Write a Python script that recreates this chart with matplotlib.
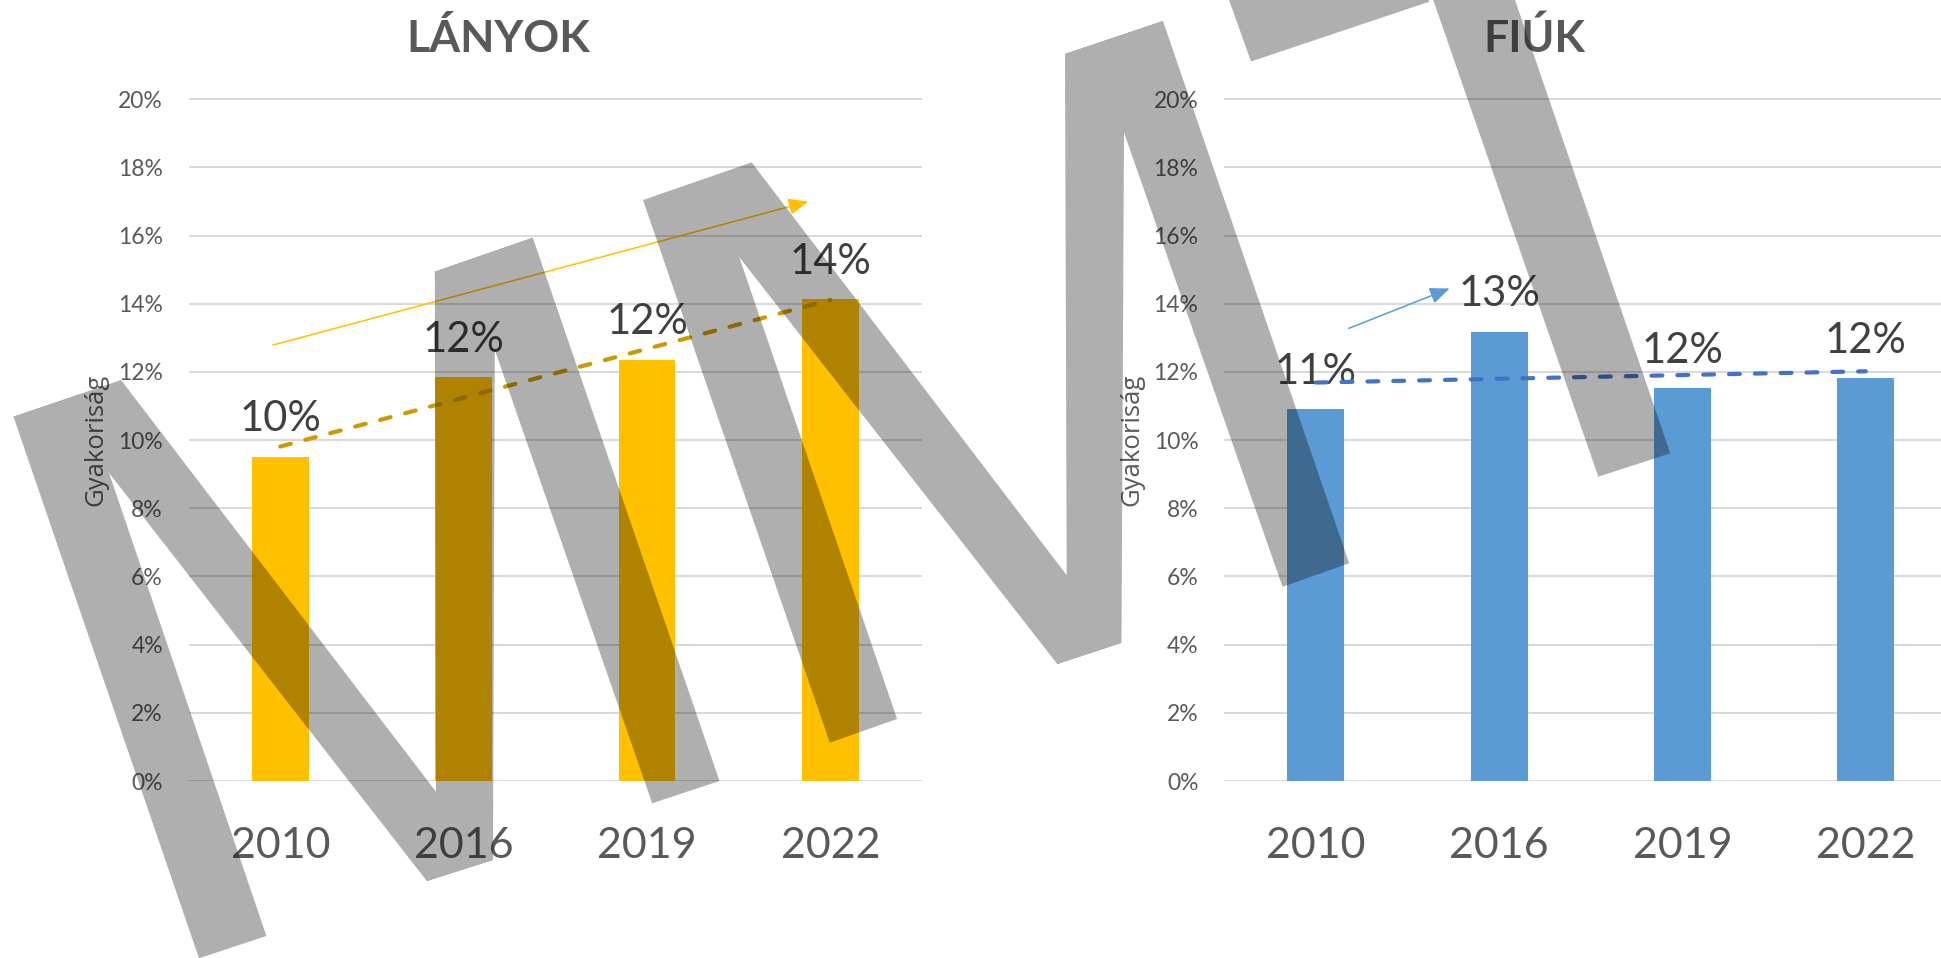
import numpy as np
import matplotlib.pyplot as plt
from matplotlib.path import Path
from matplotlib.patches import PathPatch
from matplotlib.transforms import Affine2D

# Data
years = ["2010", "2016", "2019", "2022"]
girls = [9.52, 11.85, 12.35, 14.13]
boys = [10.9, 13.18, 11.52, 11.82]
yticks = [0, 2, 4, 6, 8, 10, 12, 14, 16, 18, 20]

# hand drawn arrows on the slide (data coords: category index, percent)
girls_arrow = [(-0.04, 12.79), (2.88, 17.0)]
boys_arrow = [(0.18, 13.28), (0.73, 14.45)]

W, H = 1941, 958
GRAY = "#595959"
NUM_FONT = ["Lato", "DejaVu Sans"]

fig = plt.figure(figsize=(W / 100, H / 100), dpi=100)
fig.patch.set_facecolor("white")

ytop = 20.3
ax_h = 681.7 * ytop / 20


def draw_panel(left_px, values, color, trend_color, arrow, title, title_x):
    ax = fig.add_axes([left_px / W, 1 - 781 / H, 733.4 / W, ax_h / H])
    x = np.arange(len(years))
    ax.bar(x, values, width=0.31, color=color, zorder=2)
    ax.set_xlim(-0.5, 3.5)
    ax.set_ylim(0, ytop)

    ax.set_yticks(yticks)
    ax.set_yticklabels([f"{t}%" for t in yticks], family=NUM_FONT,
                       fontsize=16.5, color=GRAY)
    ax.set_xticks(x)
    ax.set_xticklabels(years, family=NUM_FONT, fontsize=31, color=GRAY)
    for t in ax.get_xticklabels():
        t.set_va("baseline")
    ax.tick_params(axis="y", length=0, pad=18.5)
    ax.tick_params(axis="x", length=0, pad=55.5)
    for s in ax.spines.values():
        s.set_visible(False)
    ax.yaxis.grid(True, color="#D9D9D9", lw=1.4)
    ax.set_axisbelow(True)
    ax.patch.set_alpha(0)

    # linear trendline
    k, b = np.polyfit(x, values, 1)
    ax.plot(x[[0, -1]], k * x[[0, -1]] + b, color=trend_color, lw=3.0,
            dashes=(2.6, 3.6), dash_capstyle="round", zorder=4)

    for i, v in enumerate(values):
        ax.annotate(f"{v:.0f}%", (i, v), xytext=(0, 18.4),
                    textcoords="offset points", ha="center", va="baseline",
                    fontsize=30, family=NUM_FONT, color="#404040", zorder=3)

    ax.annotate("", xy=arrow[1], xytext=arrow[0],
                arrowprops=dict(arrowstyle="-|>,head_length=0.6,head_width=0.25",
                                color=color, lw=1.1, mutation_scale=20,
                                shrinkA=0, shrinkB=0))

    ax.set_ylabel("Gyakoriság", family=["Open Sans", "DejaVu Sans"],
                  fontsize=18.5, color=GRAY)
    ax.yaxis.label.set_va("center")
    ax.yaxis.set_label_coords(-92.5 / 733.4, (781 - 440) / ax_h)

    fig.text(title_x / W, 1 - 51.7 / H, title, ha="center", va="baseline",
             fontsize=32, weight="bold", family=NUM_FONT, color=GRAY)
    return ax


draw_panel(188.6, girls, "#FFC000", "#CC9A00", girls_arrow, "LÁNYOK", 498)
draw_panel(1224.1, boys, "#5B9BD5", "#4472C4", boys_arrow, "FIÚK", 1534)

# grey watermark ribbon laid over the slide (pixel coords of the picture)
strokes = [
    [(13.5, 416.7), (82.1, 393.6), (266.4, 936), (199, 958.3)],
    [(13.5, 416.7), (121, 380), (436, 791.7), (493, 860), (426.8, 881), (109.3, 473.3)],
    [(434.8, 271.7), (532.8, 237.7), (494.8, 350), (493, 860), (426.8, 881), (436, 791.7)],
    [(434.8, 271.7), (532.8, 237.7), (719.5, 781), (652.2, 803.3), (494.8, 350)],
    [(643, 200), (751.7, 162.4), (739.3, 257.2), (897.1, 719), (829.8, 742.7)],
    [(739.3, 257.2), (751.7, 162.4), (1066.7, 575.2), (1121.5, 642.8), (1057.3, 664)],
    [(1065, 54), (1163, 21), (1124, 132.4), (1121.5, 642.8), (1057.3, 664), (1066.7, 575.2)],
    [(1065, 54), (1163, 21), (1349.2, 563.3), (1282.5, 586.8), (1124, 132.4)],
    [(1225.5, -10), (1251, 61.5), (1429.3, 1.7), (1425.2, -10)],
    [(1429.8, -10), (1511.6, -10), (1670.3, 453.3), (1598.3, 476.7)],
]
verts, codes = [], []
for poly in strokes:
    p = np.array(poly, dtype=float)
    area = np.sum(p[:, 0] * np.roll(p[:, 1], -1) - np.roll(p[:, 0], -1) * p[:, 1])
    if area < 0:
        p = p[::-1]
    verts.extend(p.tolist() + [p[0].tolist()])
    codes.extend([Path.MOVETO] + [Path.LINETO] * (len(p) - 1) + [Path.CLOSEPOLY])
px_to_fig = Affine2D().scale(1 / W, -1 / H).translate(0, 1) + fig.transFigure
fig.add_artist(PathPatch(Path(verts, codes), facecolor="black", edgecolor="none",
                         alpha=0.315, transform=px_to_fig, zorder=10))

fig.savefig("out.png", dpi=100, facecolor=fig.get_facecolor())
